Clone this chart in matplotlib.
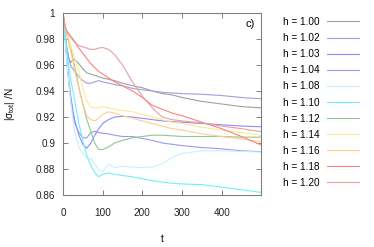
import matplotlib
matplotlib.use("Agg")
import matplotlib.pyplot as plt

plt.rcParams['font.family'] = ['Liberation Sans', 'DejaVu Sans']
plt.rcParams['mathtext.default'] = 'regular'

t = [0, 5, 10, 15, 20, 25, 30, 40, 50, 60, 70, 80, 90, 100, 115, 130,
     150, 175, 200, 225, 250, 275, 300, 350, 400, 450, 499]

h100 = [1, 0.985, 0.973, 0.965, 0.962, 0.964, 0.964, 0.961, 0.957, 0.954, 0.953,
        0.952, 0.951, 0.950, 0.949, 0.948, 0.946, 0.944, 0.9425, 0.940, 0.938,
        0.937, 0.935, 0.932, 0.930, 0.928, 0.927]
h102 = [1, 0.983, 0.972, 0.964, 0.959, 0.957, 0.955, 0.951, 0.948, 0.946, 0.946,
        0.947, 0.948, 0.947, 0.946, 0.945, 0.944, 0.942, 0.941, 0.940, 0.939,
        0.9385, 0.938, 0.9375, 0.9365, 0.935, 0.934]
h103 = [1, 0.985, 0.965, 0.948, 0.935, 0.925, 0.917, 0.906, 0.899, 0.896, 0.900,
        0.906, 0.911, 0.915, 0.918, 0.920, 0.9205, 0.920, 0.919, 0.918, 0.917,
        0.9165, 0.916, 0.915, 0.914, 0.913, 0.9125]
h104 = [1, 0.982, 0.962, 0.945, 0.932, 0.922, 0.915, 0.908, 0.904, 0.904, 0.908,
        0.909, 0.908, 0.9075, 0.907, 0.906, 0.905, 0.905, 0.9035, 0.902, 0.900,
        0.899, 0.898, 0.8965, 0.8955, 0.894, 0.8933]
h108 = [1, 0.982, 0.962, 0.945, 0.930, 0.918, 0.908, 0.897, 0.891, 0.889, 0.888,
        0.884, 0.879, 0.878, 0.884, 0.881, 0.882, 0.8815, 0.881, 0.8815, 0.884,
        0.889, 0.892, 0.894, 0.894, 0.8935, 0.893]
h110 = [1, 0.985, 0.970, 0.957, 0.948, 0.940, 0.932, 0.915, 0.902, 0.890, 0.883,
        0.877, 0.874, 0.876, 0.877, 0.876, 0.875, 0.874, 0.8725, 0.871, 0.870,
        0.869, 0.8685, 0.868, 0.866, 0.864, 0.862]
h112 = [1, 0.990, 0.984, 0.978, 0.972, 0.965, 0.958, 0.943, 0.930, 0.918, 0.909,
        0.900, 0.895, 0.895, 0.897, 0.900, 0.902, 0.904, 0.905, 0.906, 0.906,
        0.9055, 0.905, 0.905, 0.905, 0.9045, 0.9045]
h114 = [1, 0.990, 0.984, 0.979, 0.974, 0.970, 0.965, 0.955, 0.942, 0.932, 0.928,
        0.927, 0.927, 0.928, 0.927, 0.926, 0.925, 0.924, 0.922, 0.920, 0.918,
        0.916, 0.915, 0.912, 0.910, 0.908, 0.906]
h116 = [1, 0.990, 0.983, 0.976, 0.970, 0.963, 0.955, 0.942, 0.930, 0.921, 0.918,
        0.917, 0.919, 0.922, 0.924, 0.923, 0.921, 0.919, 0.917, 0.915, 0.913,
        0.911, 0.910, 0.907, 0.905, 0.903, 0.901]
h118 = [1, 0.990, 0.986, 0.984, 0.982, 0.980, 0.978, 0.973, 0.969, 0.965, 0.961,
        0.958, 0.955, 0.953, 0.950, 0.947, 0.944, 0.940, 0.935, 0.929, 0.926,
        0.923, 0.921, 0.916, 0.911, 0.905, 0.8985]
h120 = [1, 0.990, 0.985, 0.983, 0.981, 0.979, 0.977, 0.975, 0.974, 0.973, 0.972,
        0.972, 0.973, 0.9735, 0.972, 0.968, 0.960, 0.947, 0.936, 0.927, 0.920,
        0.918, 0.917, 0.9155, 0.913, 0.911, 0.9087]

labels = ['h = 1.00', 'h = 1.02', 'h = 1.03', 'h = 1.04', 'h = 1.08', 'h = 1.10',
          'h = 1.12', 'h = 1.14', 'h = 1.16', 'h = 1.18', 'h = 1.20']
series = [h100, h102, h103, h104, h108, h110, h112, h114, h116, h118, h120]
colors = ['#a0a0a0', '#a0a0e0', '#8c8cff', '#9a9aee', '#c8f0ff', '#70f0f8',
          '#90c890', '#ffe890', '#ffcc90', '#ff8080', '#e8a0a0']

fig = plt.figure(figsize=(3.74, 2.47), dpi=100)
ax = fig.add_axes([63 / 374, 1 - 195 / 247, 198 / 374, 182 / 247])

for vals, lab, col in zip(series, labels, colors):
    ax.plot(t, vals, color=col, lw=0.8, label=lab)

ax.set_xlim(0, 499)
ax.set_ylim(0.86, 1.0)
ax.set_xticks([0, 100, 200, 300, 400])
ax.set_yticks([0.86, 0.88, 0.9, 0.92, 0.94, 0.96, 0.98, 1.0])
ax.set_yticklabels(['0.86', '0.88', '0.9', '0.92', '0.94', '0.96', '0.98', '1'])

for sp in ax.spines.values():
    sp.set_color('#808080')
    sp.set_linewidth(0.8)
ax.tick_params(direction='in', length=3.6, width=0.7, color='#808080',
               top=True, right=True, labelsize=7.2, labelcolor='#222222')
ax.tick_params(axis='y', pad=5.5)
ax.tick_params(axis='x', pad=9)

ax.set_xlabel('t', fontsize=7.2)
ax.xaxis.set_label_coords(0.5, -0.215)
ax.set_ylabel(r'|σ$_{tot}$| /N', fontsize=7.2)
ax.yaxis.set_label_coords(-0.23, 0.5)

ax.text(0.97, 0.94, 'c)', transform=ax.transAxes, ha='right', va='center',
        fontsize=8)

ax.legend(loc='upper left', bbox_to_anchor=(283 / 374, 1 - 17 / 247),
          bbox_transform=fig.transFigure, frameon=False, markerfirst=False,
          fontsize=7.2, handlelength=3.2, handletextpad=0.7, labelspacing=0.61,
          borderpad=0, borderaxespad=0)

fig.savefig('out.png', dpi=100)
